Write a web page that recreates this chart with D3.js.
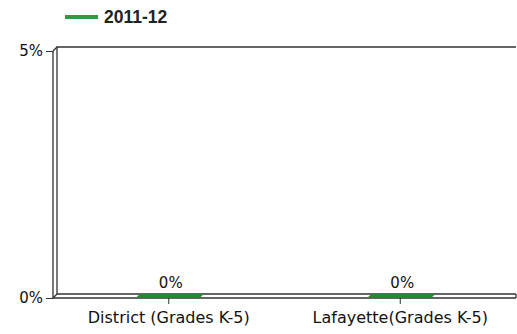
<!DOCTYPE html>
<html>
<head>
<meta charset="utf-8">
<script src="https://cdn.jsdelivr.net/npm/d3@7/dist/d3.min.js"></script>
<style>
  html, body { margin: 0; padding: 0; background: #fff; }
  svg { display: block; }
</style>
</head>
<body>
<svg id="chart" width="517" height="334"></svg>
<script>
// Chart data
const categories = ["District (Grades K-5)", "Lafayette(Grades K-5)"];
const seriesName = "2011-12";
const values = [0, 0];            // share, as fraction
const yTicks = [0, 0.05];
const yTickLabels = ["0%", "5%"];

const plotLeft = 53, plotRight = 516, plotTop = 51, plotBottom = 298;
const depth = 4;                  // 3D offset of the back wall
const frameColor = "#333";
const barColor = "#1f8a33";
const font = "DejaVu Sans, Verdana, sans-serif";
const textColor = "#111";

const svg = d3.select("#chart");

const x = d3.scaleBand().domain(categories).range([plotLeft, plotRight]).paddingInner(0).paddingOuter(0);
const y = d3.scaleLinear().domain([0, 0.05]).range([plotBottom, plotTop]);

// Legend
const lg = svg.append("g");
lg.append("line").attr("x1", 65).attr("x2", 98).attr("y1", 17).attr("y2", 17)
  .attr("stroke", "#2f9a40").attr("stroke-width", 4);
lg.append("text").attr("x", 104).attr("y", 23).text(seriesName)
  .attr("font-family", "Liberation Sans, Arial, sans-serif").attr("font-weight", "bold")
  .attr("font-size", 17.5).attr("fill", "#222");

// Frame: back wall and floor with depth
const frame = svg.append("g").attr("fill", "none").attr("stroke", frameColor).attr("stroke-width", 1.3);
const yBack = v => y(v) - depth;
frame.append("path").attr("d",
  `M${plotLeft + depth},${yBack(0)} V${yBack(0.05)} H${plotRight}`);
frame.append("path").attr("d", `M${plotLeft + depth},${yBack(0)} H${plotRight}`);
frame.append("path").attr("d", `M${plotLeft},${y(0.05)} V${y(0)} H${plotRight}`);
frame.append("path").attr("d", `M${plotLeft},${y(0.05)} L${plotLeft + depth},${yBack(0.05)}`);
frame.append("path").attr("d", `M${plotLeft},${y(0)} L${plotLeft + depth},${yBack(0)}`);
frame.append("path").attr("d", `M${plotRight},${y(0)} L${plotRight},${yBack(0)}`);

// Y axis ticks and labels
const yAxis = d3.axisLeft(y).tickValues(yTicks).tickSize(7).tickPadding(3)
  .tickFormat((d, i) => yTickLabels[i]);
const ya = svg.append("g").attr("transform", `translate(${plotLeft},0)`).call(yAxis);
ya.select(".domain").remove();
ya.selectAll("line").attr("stroke", frameColor);
ya.selectAll("text").attr("font-family", font).attr("font-size", 15).attr("fill", textColor);

// X axis ticks and labels
const xAxis = d3.axisBottom(x).tickSize(6).tickPadding(8);
const xa = svg.append("g").attr("transform", `translate(0,${plotBottom})`).call(xAxis);
xa.select(".domain").remove();
xa.selectAll("line").attr("stroke", frameColor);
xa.selectAll("text").attr("font-family", font).attr("font-size", 16).attr("fill", textColor);

// Bars (3D prisms; height from value)
const barW = 64;
const bars = svg.append("g");
categories.forEach((c, i) => {
  const cx = x(c) + x.bandwidth() / 2;
  const x0 = cx - barW / 2 - 1, x1 = cx + barW / 2 - 1;
  const yv = y(values[i]);
  const g = bars.append("g");
  g.append("path").attr("d",
    `M${x0},${yv} L${x1},${yv} L${x1 + depth},${yv - depth} L${x0 + depth},${yv - depth} Z`)
    .attr("fill", barColor);
  g.append("rect").attr("x", x0).attr("y", yv).attr("width", x1 - x0).attr("height", y(0) - yv)
    .attr("fill", barColor);
  g.append("text").attr("x", cx + 2).attr("y", yv - depth - 6)
    .attr("text-anchor", "middle").attr("font-family", font).attr("font-size", 15).attr("fill", textColor)
    .text(d3.format(".0%")(values[i]));
});
</script>
</body>
</html>
